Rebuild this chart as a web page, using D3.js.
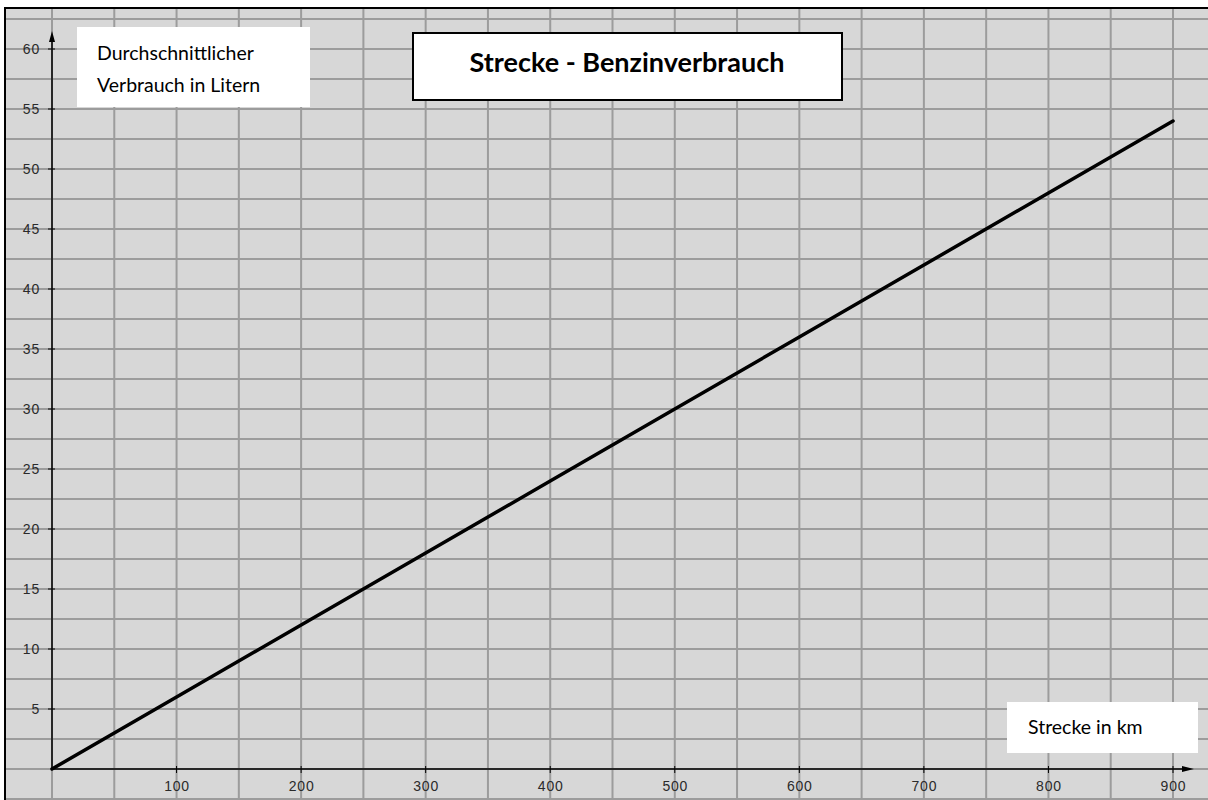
<!DOCTYPE html>
<html><head><meta charset="utf-8">
<script src="https://cdn.jsdelivr.net/npm/d3@7"></script>
<style>body{margin:0;background:#fff;}svg{display:block;}</style>
</head><body>
<script>
const distanceKm = [0, 100, 200, 300, 400, 500, 600, 700, 800, 900];
const litres     = [0, 6, 12, 18, 24, 30, 36, 42, 48, 54];
const xTickValues = [100, 200, 300, 400, 500, 600, 700, 800, 900];
const yTickValues = [5, 10, 15, 20, 25, 30, 35, 40, 45, 50, 55, 60];
const titleText = "Strecke - Benzinverbrauch";
const yLabelLines = ["Durchschnittlicher", "Verbrauch in Litern"];
const xLabelText = "Strecke in km";

const W = 1208, H = 800;
const svg = d3.select("body").append("svg").attr("width", W).attr("height", H);

const x = d3.scaleLinear().domain([0, 900]).range([52, 1173]);
const y = d3.scaleLinear().domain([0, 60]).range([769, 49]);

const frame = {l: 5, t: 8, r: W, b: H};
svg.append("defs").append("clipPath").attr("id", "frame")
  .append("rect").attr("x", frame.l).attr("y", frame.t).attr("width", frame.r - frame.l).attr("height", frame.b - frame.t);

const g = svg.append("g").attr("clip-path", "url(#frame)");
g.append("rect").attr("x", frame.l).attr("y", frame.t).attr("width", frame.r - frame.l).attr("height", frame.b - frame.t).attr("fill", "#d7d7d7");

// grid
const xGrid = d3.range(0, 1001, 50);
const yGrid = d3.range(-2.5, 65, 2.5);
g.selectAll(".vg").data(xGrid).join("line")
  .attr("x1", d => x(d)).attr("x2", d => x(d)).attr("y1", frame.t).attr("y2", frame.b)
  .attr("stroke", "#9c9c9c").attr("stroke-width", 2);
g.selectAll(".hg").data(yGrid).join("line")
  .attr("x1", frame.l).attr("x2", frame.r).attr("y1", d => y(d)).attr("y2", d => y(d))
  .attr("stroke", "#9c9c9c").attr("stroke-width", 2);

// tick labels
const tickFont = "Liberation Sans, Arial, sans-serif";
g.selectAll(".yl").data(yTickValues).join("text")
  .attr("x", 40).attr("y", d => y(d)).attr("dy", "0.36em").attr("text-anchor", "end")
  .attr("font-family", tickFont).attr("font-size", 14).attr("letter-spacing", 0.8).attr("fill", "#2a2a2a")
  .text(d => d);
g.selectAll(".xl").data(xTickValues).join("text")
  .attr("x", d => x(d) + 0.5).attr("y", 786).attr("dy", "0.36em").attr("text-anchor", "middle")
  .attr("font-family", tickFont).attr("font-size", 14).attr("letter-spacing", 0.8).attr("fill", "#2a2a2a")
  .text(d => d);

// axes
g.append("line").attr("x1", x(0)).attr("x2", x(0)).attr("y1", y(0)).attr("y2", 36)
  .attr("stroke", "#000").attr("stroke-width", 1.5);
g.append("line").attr("x1", x(0)).attr("x2", 1190).attr("y1", y(0)).attr("y2", y(0))
  .attr("stroke", "#000").attr("stroke-width", 1.5);
// ticks
g.selectAll(".yt").data(yTickValues).join("line")
  .attr("x1", x(0) - 4).attr("x2", x(0) + 3).attr("y1", d => y(d)).attr("y2", d => y(d))
  .attr("stroke", "#000").attr("stroke-width", 1);
g.selectAll(".xt").data(xTickValues).join("line")
  .attr("x1", d => x(d)).attr("x2", d => x(d)).attr("y1", y(0) - 3).attr("y2", y(0) + 4)
  .attr("stroke", "#000").attr("stroke-width", 1);
// arrow heads
g.append("path").attr("d", `M${x(0)},31 L${x(0)-3},42 L${x(0)+3},42 Z`).attr("fill", "#000");
g.append("path").attr("d", `M1194,${y(0)} L1182,${y(0)-3} L1182,${y(0)+3} Z`).attr("fill", "#000");

// data line
const pts = distanceKm.map((d, i) => [d, litres[i]]);
g.append("path").datum(pts)
  .attr("d", d3.line().x(d => x(d[0])).y(d => y(d[1])))
  .attr("fill", "none").attr("stroke", "#000").attr("stroke-width", 3.5).attr("stroke-linecap", "round");

// frame border
svg.append("path").attr("d", `M${frame.l},${frame.b} L${frame.l},${frame.t} L${frame.r},${frame.t}`)
  .attr("fill", "none").attr("stroke", "#000").attr("stroke-width", 2);

const labelFont = "Lato, Carlito, Calibri, sans-serif";
// Y label box
svg.append("rect").attr("x", 77).attr("y", 27).attr("width", 233).attr("height", 80).attr("fill", "#fff");
svg.append("text").attr("font-family", labelFont).attr("font-size", 19.5).attr("fill", "#000")
  .selectAll("tspan").data(yLabelLines).join("tspan")
  .attr("x", 97).attr("y", (d, i) => 60 + i * 32).text(d => d);

// Title box
svg.append("rect").attr("x", 413).attr("y", 33).attr("width", 429).attr("height", 67)
  .attr("fill", "#fff").attr("stroke", "#000").attr("stroke-width", 2);
svg.append("text").attr("x", 627).attr("y", 72).attr("text-anchor", "middle")
  .attr("font-family", labelFont).attr("font-weight", "bold").attr("font-size", 27)
  .attr("fill", "#000").text(titleText);

// X label box
svg.append("rect").attr("x", 1007).attr("y", 702).attr("width", 191).attr("height", 51).attr("fill", "#fff");
svg.append("text").attr("x", 1028).attr("y", 734)
  .attr("font-family", labelFont).attr("font-size", 19.5).attr("fill", "#000")
  .text(xLabelText);
</script>
</body></html>
